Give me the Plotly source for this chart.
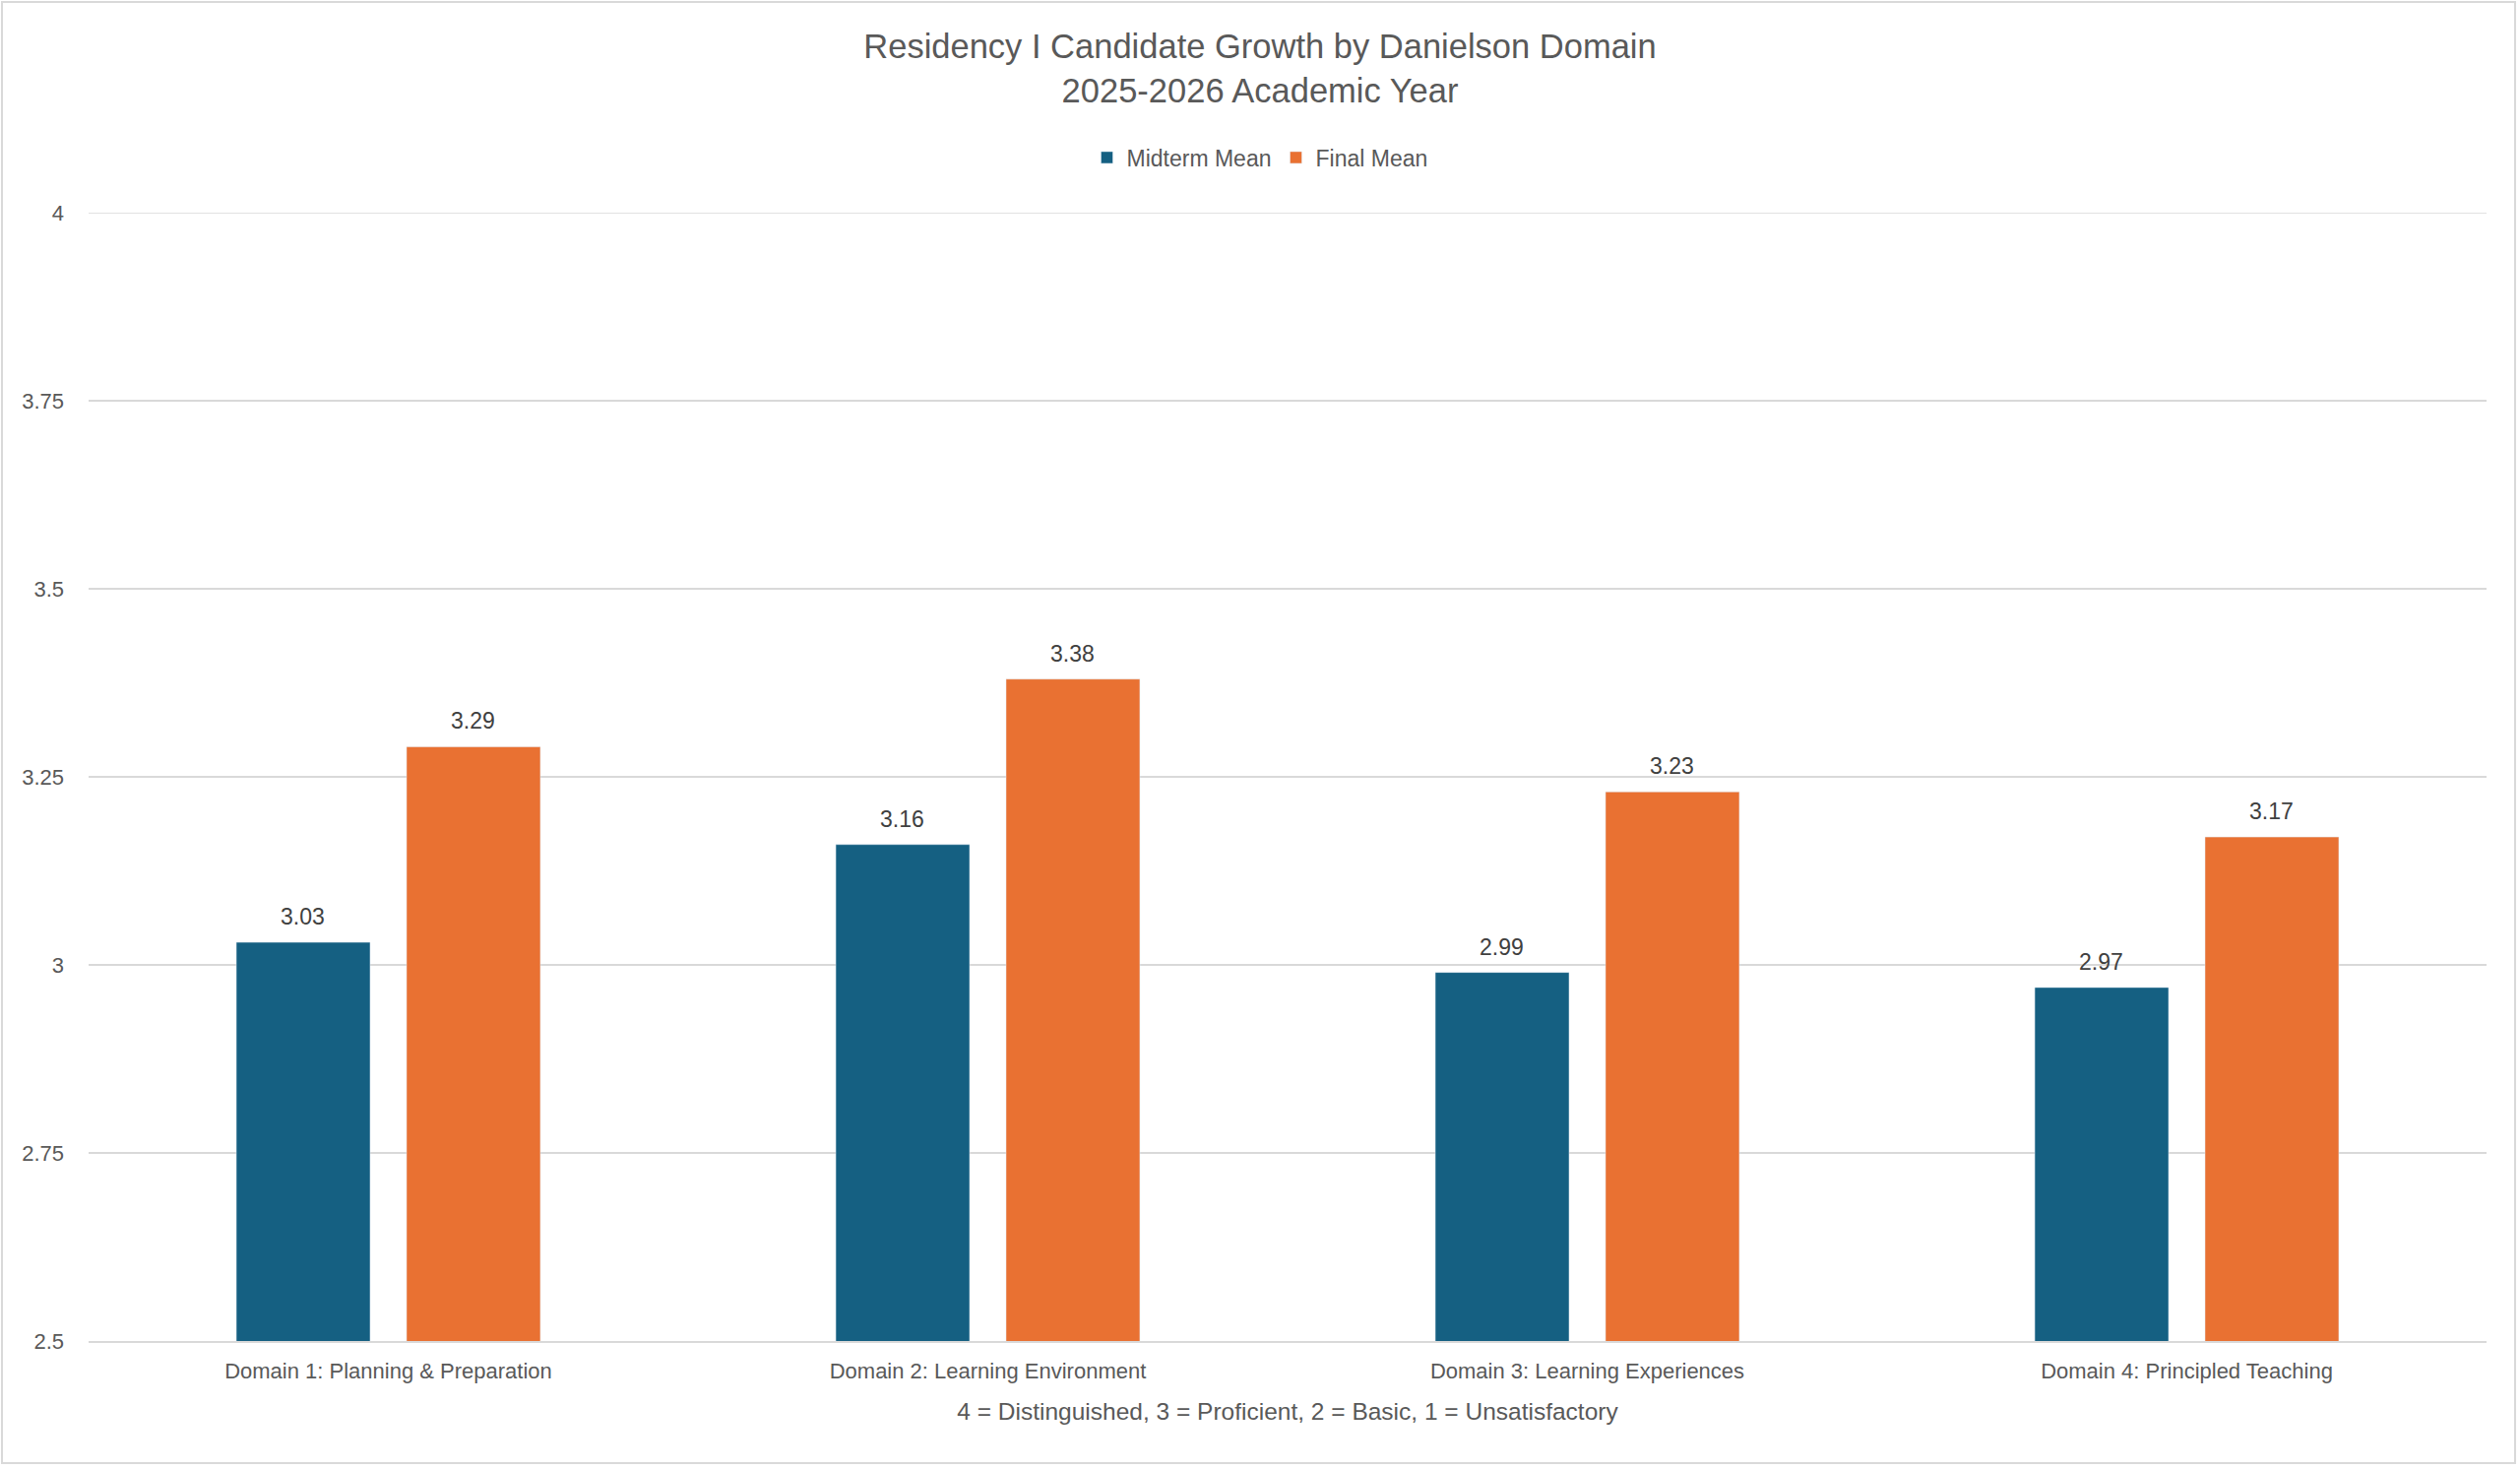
import plotly.graph_objects as go

categories = ["Domain 1: Planning & Preparation", "Domain 2: Learning Environment",
              "Domain 3: Learning Experiences", "Domain 4: Principled Teaching"]
midterm = [3.03, 3.16, 2.99, 2.97]
final = [3.29, 3.38, 3.23, 3.17]
y_ticks = [2.5, 2.75, 3, 3.25, 3.5, 3.75, 4]
y_tick_labels = ["2.5", "2.75", "3", "3.25", "3.5", "3.75", "4"]

W, H = 2560, 1492
L, R, T, B = 90, 34, 216, 130
pw, ph = W - L - R, H - T - B

TXT = "#595959"
FONT = "Liberation Sans, Arial, sans-serif"

fig = go.Figure()
fig.add_trace(go.Bar(name="Midterm Mean", x=categories, y=midterm, marker_color="#156082"))
fig.add_trace(go.Bar(name="Final Mean", x=categories, y=final, marker_color="#E97132"))

annotations = []
for series, shift in ((midterm, -87), (final, 86)):
    for c, v in zip(categories, series):
        annotations.append(dict(x=c, y=v, xref="x", yref="y", text=f"{v:.2f}",
                                showarrow=False, xshift=shift, yshift=26, yanchor="middle",
                                font=dict(family=FONT, size=23, color="#404040")))

fig.update_layout(
    width=W, height=H,
    margin=dict(l=L, r=R, t=T, b=B),
    paper_bgcolor="white", plot_bgcolor="white",
    barmode="group", bargap=0.432, bargroupgap=0.214,
    title=dict(text="Residency I Candidate Growth by Danielson Domain<br>2025-2026 Academic Year",
               x=0.5, xref="container", xanchor="center",
               y=1 - 59 / H, yref="container", yanchor="middle",
               font=dict(family=FONT, size=34.5, color=TXT)),
    legend=dict(orientation="h", x=0.5, xref="container", xanchor="center",
                y=1 - 160 / H, yref="container", yanchor="middle",
                font=dict(family=FONT, size=23, color=TXT), traceorder="normal",
                itemwidth=30),
    xaxis=dict(showgrid=False, showline=True, linecolor="#D9D9D9", linewidth=2,
               ticks="outside", ticklen=10, tickcolor="rgba(0,0,0,0)",
               tickfont=dict(family=FONT, size=22, color=TXT),
               title=dict(text="4 = Distinguished, 3 = Proficient, 2 = Basic, 1 = Unsatisfactory",
                          font=dict(family=FONT, size=24.5, color=TXT), standoff=20)),
    yaxis=dict(range=[y_ticks[0], y_ticks[-1]], tickvals=y_ticks, ticktext=y_tick_labels,
               showgrid=True, gridcolor="#D9D9D9", gridwidth=1.5, zeroline=False,
               showline=False, ticks="", ticklabelstandoff=24,
               tickfont=dict(family=FONT, size=22, color=TXT)),
    annotations=annotations,
    shapes=[dict(type="rect", xref="paper", yref="paper",
                 x0=(2 - L) / pw, x1=(2555 - L) / pw,
                 y0=(H - B - 1486) / ph, y1=(H - B - 2) / ph,
                 line=dict(color="#D9D9D9", width=2), layer="below"),
            dict(type="line", xref="paper", yref="y", x0=0, x1=1,
                 y0=y_ticks[-1], y1=y_ticks[-1],
                 line=dict(color="#D9D9D9", width=1.5), layer="below")],
)

fig.write_html("out.html")
